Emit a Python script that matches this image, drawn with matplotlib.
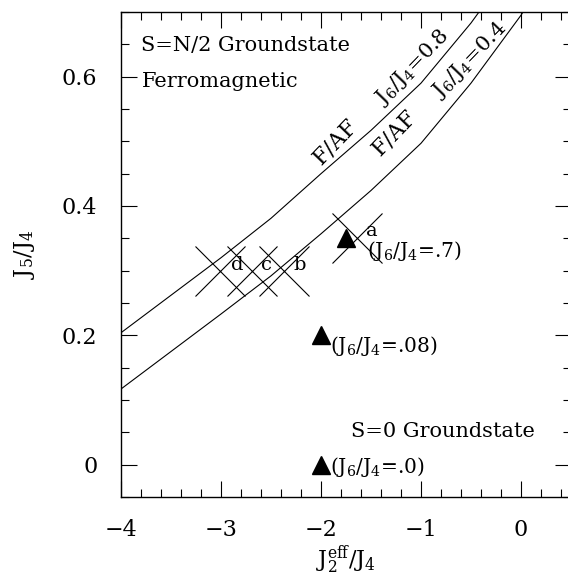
import matplotlib
matplotlib.use("Agg")
import matplotlib.pyplot as plt
from matplotlib.ticker import MultipleLocator, FixedLocator, FixedFormatter

plt.rcParams['font.family'] = ['DejaVu Serif']
plt.rcParams['mathtext.fontset'] = 'dejavuserif'

# ---- data ----
upper_x = [-4.0, -3.5, -3.0, -2.5, -2.0, -1.5, -1.0, -0.5, -0.42]
upper_y = [0.204, 0.262, 0.320, 0.381, 0.450, 0.517, 0.590, 0.683, 0.700]
lower_x = [-4.0, -3.5, -3.0, -2.5, -2.0, -1.5, -1.0, -0.5, 0.0, 0.02]
lower_y = [0.117, 0.175, 0.233, 0.292, 0.357, 0.424, 0.497, 0.590, 0.695, 0.700]

cross_x = [-3.01, -2.69, -2.37, -1.64]
cross_y = [0.300, 0.300, 0.300, 0.351]
cross_labels = ['d', 'c', 'b', 'a']

tri_x = [-1.75, -2.0, -2.0]
tri_y = [0.35, 0.20, 0.00]
tri_ratio = ['.7', '.08', '.0']

x_ticks = [-4, -3, -2, -1, 0]
x_ticklabels = ['\u22124', '\u22123', '\u22122', '\u22121', '0']
y_ticks = [0.0, 0.2, 0.4, 0.6]
y_ticklabels = ['0', '0.2', '0.4', '0.6']

# ---- figure ----
fig = plt.figure(figsize=(5.68, 5.80), dpi=100)
ax = fig.add_axes([121/568, 83/580, 450/568, 485/580])
ax.set_xlim(-4, 0.5)
ax.set_ylim(-0.05, 0.70)

lw = 0.8
ax.plot(upper_x, upper_y, color='black', lw=lw)
ax.plot(lower_x, lower_y, color='black', lw=lw)

ax.plot(cross_x, cross_y, linestyle='none', marker='x', ms=36, mew=lw,
        color='black')
ax.plot(tri_x, tri_y, linestyle='none', marker='^', ms=13, color='black')

fs = 15
# cross labels
lab_pos = {'d': (-2.84, 0.308), 'c': (-2.54, 0.308), 'b': (-2.21, 0.308),
           'a': (-1.49, 0.362)}
for lab in cross_labels:
    px, py = lab_pos[lab]
    ax.text(px, py, lab, fontsize=14, ha='center', va='center')

# triangle labels
tri_text_pos = [(-1.54, 0.330), (-1.91, 0.183), (-1.91, -0.004)]
for (px, py), r in zip(tri_text_pos, tri_ratio):
    ax.text(px, py, r'(J$_6$/J$_4$=' + r + ')', fontsize=14.5,
            ha='left', va='center')

# region texts
ax.text(-3.80, 0.648, 'S=N/2 Groundstate', fontsize=fs, ha='left', va='center')
ax.text(-3.79, 0.592, 'Ferromagnetic', fontsize=fs, ha='left', va='center')
ax.text(-1.70, 0.052, 'S=0 Groundstate', fontsize=fs, ha='left', va='center')

# curve labels
rot = 46
ax.text(-1.86, 0.499, 'F/AF', fontsize=16, rotation=rot,
        rotation_mode='anchor', ha='center', va='center')
ax.text(-1.09, 0.615, r'J$_6$/J$_4$=0.8', fontsize=fs, rotation=rot,
        rotation_mode='anchor', ha='center', va='center')
ax.text(-1.27, 0.513, 'F/AF', fontsize=16, rotation=rot,
        rotation_mode='anchor', ha='center', va='center')
ax.text(-0.51, 0.626, r'J$_6$/J$_4$=0.4', fontsize=fs, rotation=rot,
        rotation_mode='anchor', ha='center', va='center')

# ticks
ax.xaxis.set_major_locator(FixedLocator(x_ticks))
ax.xaxis.set_major_formatter(FixedFormatter(x_ticklabels))
ax.yaxis.set_major_locator(FixedLocator(y_ticks))
ax.yaxis.set_major_formatter(FixedFormatter(y_ticklabels))
ax.xaxis.set_minor_locator(MultipleLocator(0.2))
ax.yaxis.set_minor_locator(MultipleLocator(0.05))
ax.tick_params(which='both', direction='in', top=True, right=True,
               width=0.8, labelsize=16)
ax.tick_params(axis='y', which='major', pad=17)
ax.tick_params(axis='x', which='major', pad=16)
ax.tick_params(which='major', length=11.5)
ax.tick_params(which='minor', length=5.8)
for s in ax.spines.values():
    s.set_linewidth(1.0)

ax.set_xlabel(r'J$_2^{\rm eff}$/J$_4$', fontsize=16, labelpad=2)
ax.set_ylabel(r'J$_5$/J$_4$', fontsize=16, labelpad=18)

fig.savefig('out.png', dpi=100)
